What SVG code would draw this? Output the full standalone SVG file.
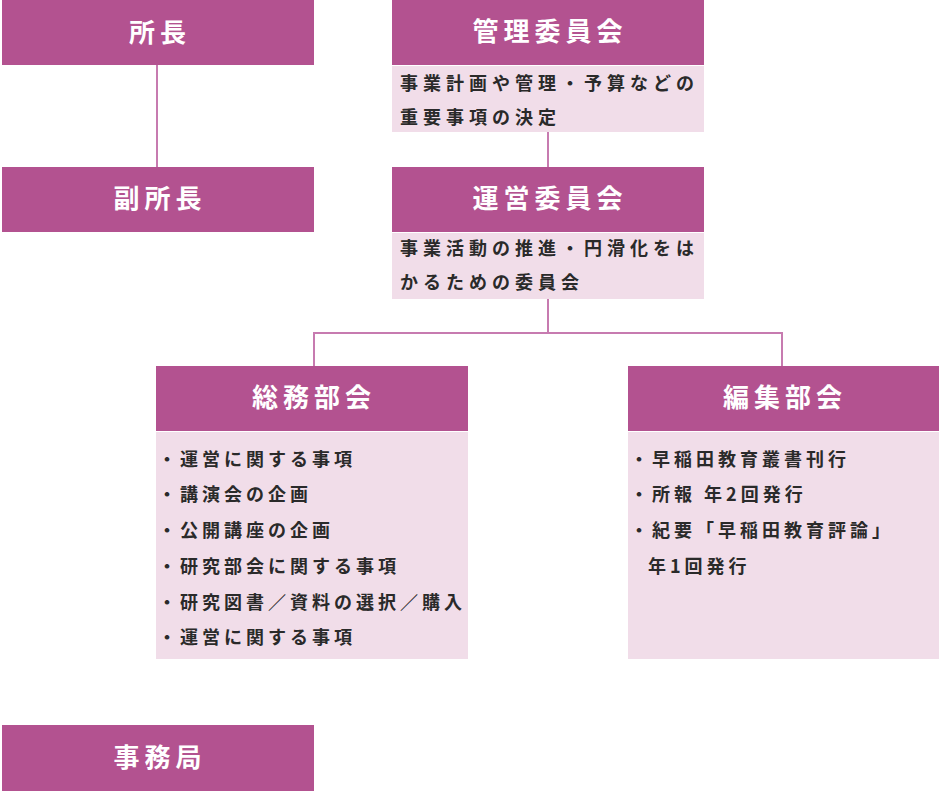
<svg xmlns="http://www.w3.org/2000/svg" width="939" height="791" viewBox="0 0 939 791">
<style>
.hd{fill:#b35290}
.bd{fill:#f1dde9}
.ht{fill:#fff;font-family:"Noto Sans CJK JP","Noto Sans",sans-serif;font-size:26px;font-weight:700;letter-spacing:5px;text-anchor:middle;dominant-baseline:central}
.bt{fill:#2a2a2a;font-family:"Noto Sans CJK JP","Noto Sans",sans-serif;font-size:18px;font-weight:700;letter-spacing:4px;dominant-baseline:central}
.wide{letter-spacing:5px}
.ln{stroke:#c77bb0;stroke-width:2;fill:none}
</style>
<g id="connectors">
<line class="ln" x1="157" y1="65" x2="157" y2="167"/>
<line class="ln" x1="548" y1="132" x2="548" y2="167"/>
<polyline class="ln" points="548,299 548,333"/>
<polyline class="ln" points="314,366 314,333 782,333 782,366"/>
</g>
<g id="shocho">
<rect class="hd" x="2" y="0" width="312" height="65"/>
<text class="ht" x="160" y="30">所長</text>
</g>
<g id="fukushocho">
<rect class="hd" x="2" y="167" width="312" height="65"/>
<text class="ht" x="160" y="196">副所長</text>
</g>
<g id="kanri">
<rect class="hd" x="392" y="0" width="312" height="65"/>
<rect class="bd" x="392" y="66" width="312" height="66"/>
<text class="ht" x="550" y="29">管理委員会</text>
<text class="bt wide" x="400" y="82">事業計画や管理・予算などの</text>
<text class="bt wide" x="400" y="116">重要事項の決定</text>
</g>
<g id="unei">
<rect class="hd" x="392" y="167" width="312" height="65"/>
<rect class="bd" x="392" y="233" width="312" height="66"/>
<text class="ht" x="550" y="196">運営委員会</text>
<text class="bt wide" x="400" y="247">事業活動の推進・円滑化をは</text>
<text class="bt wide" x="400" y="281">かるための委員会</text>
</g>
<g id="somu">
<rect class="hd" x="156" y="366" width="312" height="65"/>
<rect class="bd" x="156" y="432" width="312" height="227"/>
<text class="ht" x="314" y="395">総務部会</text>
<text class="bt" x="158" y="458">・運営に関する事項</text>
<text class="bt" x="158" y="493">・講演会の企画</text>
<text class="bt" x="158" y="529">・公開講座の企画</text>
<text class="bt" x="158" y="565">・研究部会に関する事項</text>
<text class="bt" x="158" y="601">・研究図書／資料の選択／購入</text>
<text class="bt" x="158" y="636">・運営に関する事項</text>
</g>
<g id="henshu">
<rect class="hd" x="628" y="366" width="311" height="65"/>
<rect class="bd" x="628" y="432" width="311" height="227"/>
<text class="ht" x="785" y="395">編集部会</text>
<text class="bt" x="630" y="458">・早稲田教育叢書刊行</text>
<text class="bt" x="630" y="493">・所報 年2回発行</text>
<text class="bt" x="630" y="529">・紀要「早稲田教育評論」</text>
<text class="bt" x="648" y="565">年1回発行</text>
</g>
<g id="jimukyoku">
<rect class="hd" x="2" y="725" width="312" height="66"/>
<text class="ht" x="160" y="755">事務局</text>
</g>
</svg>
